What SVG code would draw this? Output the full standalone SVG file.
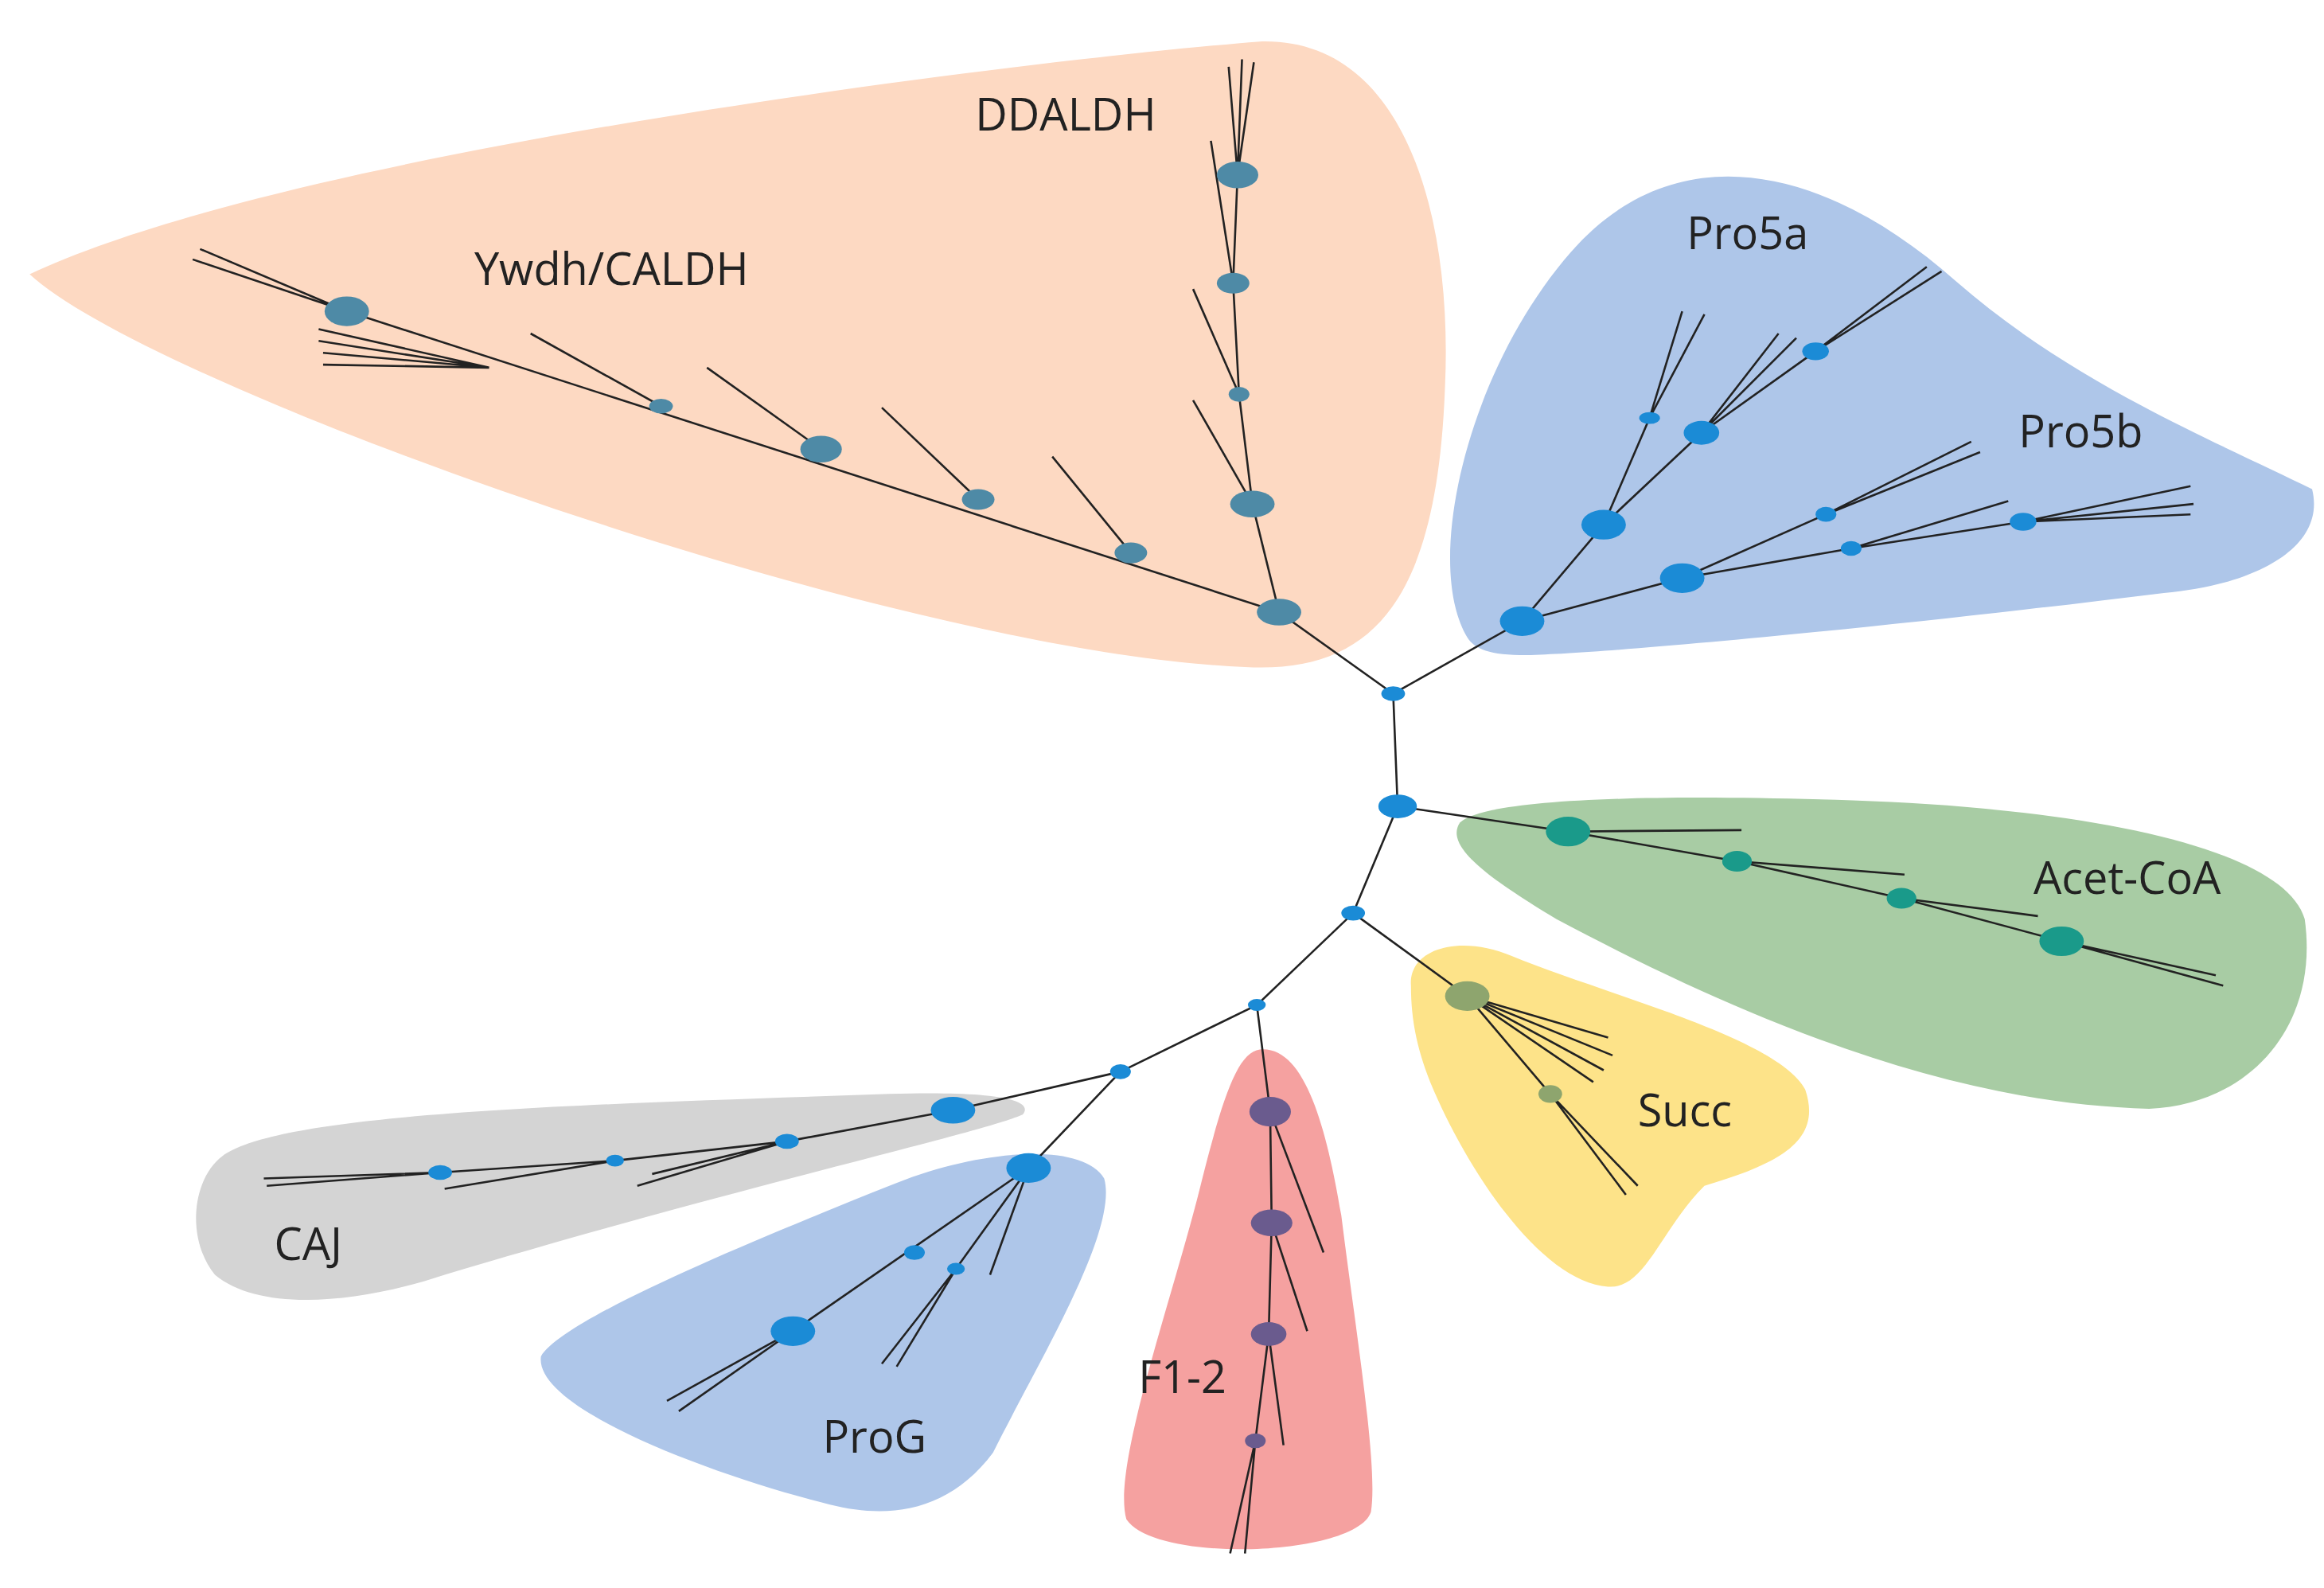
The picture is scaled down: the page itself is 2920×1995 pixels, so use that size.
<svg xmlns="http://www.w3.org/2000/svg" width="2920" height="1995" viewBox="0 0 2920 1995">
<style>
.e{stroke:#222;stroke-width:1.4;fill:none}
.t{font-family:"Open Sans","Liberation Sans",sans-serif;font-size:30px;fill:#222}
.a{fill:#4e8aa6}.b{fill:#1b8bd6}.g{fill:#1a9a8a}.y{fill:#8ea56e}.p{fill:#6a5b8e}
</style>
<rect width="2920" height="1995" fill="#fff"/>
<g transform="scale(1.8622)">
<g id="regions">
<path id="r-peach" d="M20,185 C200,100 700,40 850,28 C950,25 980,150 975,260 C970,400 930,455 840,450 C600,440 100,260 20,185 Z" fill="#fdd9c2"/>
<path id="r-pro5" d="M990,430 C960,380 990,250 1060,170 C1130,90 1230,110 1320,190 C1400,260 1500,300 1560,330 C1570,370 1520,395 1460,400 C1300,420 1100,440 1030,442 C1005,442 995,438 990,430 Z" fill="#aec6e9"/>
<path id="r-green" d="M985,555 C1000,540 1100,535 1250,540 C1400,545 1540,570 1555,620 C1565,690 1520,745 1450,748 C1330,745 1200,700 1050,620 C1000,590 975,570 985,555 Z" fill="#a8cca4"/>
<path id="r-yellow" d="M952,665 C950,640 985,630 1020,645 C1080,670 1200,700 1218,735 C1230,770 1200,785 1150,800 C1120,830 1110,870 1085,868 C1040,865 990,790 965,730 C955,705 952,685 952,665 Z" fill="#fde389"/>
<path id="r-red" d="M850,708 C880,705 895,760 905,820 C915,900 930,990 925,1020 C915,1050 780,1055 760,1025 C750,990 790,880 810,800 C825,740 835,710 850,708 Z" fill="#f5a1a0"/>
<path id="r-gray" d="M150,780 C190,750 400,745 600,738 C660,736 700,740 690,752 C660,765 500,800 300,860 C240,880 175,885 145,860 C125,835 130,795 150,780 Z" fill="#d4d4d4"/>
<path id="r-prog" d="M365,915 C380,890 500,840 600,800 C660,775 730,770 745,795 C755,830 700,920 670,980 C640,1020 600,1025 560,1015 C480,995 360,950 365,915 Z" fill="#aec6e9"/>
</g>
<g id="connectors">
<path class="e" d="M940,468 L943,544 L913,616 L848,678 L756,723"/>
<path class="e" d="M940,468 L863,413 L234,210 M234,210 L135,168 M234,210 L130,175 M763,373 L710,308 M660,337 L595,275 M554,303 L477,248 M446,274 L358,225 M330,248 L215,222 M330,248 L215,230 M330,248 L218,238 M330,248 L218,246"/>
<path class="e" d="M863,413 L845,340 L836,266 L832,191 L835,118 L838,40 M835,118 L846,42 M835,118 L829,45 M845,340 L805,270 M836,266 L805,195 M832,191 L817,95"/>
<path class="e" d="M940,468 L1027,419 L1082,354 L1148,292 L1225,237 L1300,180 M1225,237 L1310,183 M1082,354 L1113,282 L1135,210 M1113,282 L1150,212 M1148,292 L1200,225 M1148,292 L1212,228 M1027,419 L1135,390 L1232,347 L1330,298 M1232,347 L1336,305 M1135,390 L1249,370 L1365,352 L1478,328 M1365,352 L1480,340 M1365,352 L1478,347 M1249,370 L1355,338"/>
<path class="e" d="M943,544 L1058,561 L1172,581 L1283,606 L1391,635 L1500,665 M1391,635 L1495,658 M1058,561 L1175,560 M1172,581 L1285,590 M1283,606 L1375,618"/>
<path class="e" d="M913,616 L990,672 L1046,738 L1105,800 M1046,738 L1097,806 M990,672 L1085,700 M990,672 L1088,712 M990,672 L1082,722 M990,672 L1075,730"/>
<path class="e" d="M848,678 L857,750 L858,825 L856,900 L847,972 L840,1048 M847,972 L830,1048 M857,750 L893,845 M858,825 L882,898 M856,900 L866,975"/>
<path class="e" d="M756,723 L643,749 L531,770 L415,783 L297,791 L180,800 M297,791 L178,795 M531,770 L430,800 M531,770 L440,792 M415,783 L300,802"/>
<path class="e" d="M756,723 L694,788 L535,898 L450,945 M535,898 L458,952 M694,788 L645,856 L595,920 M645,856 L605,922 M694,788 L668,860"/>
</g>
<g id="nodes">
<ellipse class="a" cx="863" cy="413" rx="15" ry="9"/><ellipse class="a" cx="763" cy="373" rx="11" ry="7"/><ellipse class="a" cx="660" cy="337" rx="11" ry="7"/><ellipse class="a" cx="554" cy="303" rx="14" ry="9"/><ellipse class="a" cx="446" cy="274" rx="8" ry="5"/><ellipse class="a" cx="234" cy="210" rx="15" ry="10"/>
<ellipse class="a" cx="845" cy="340" rx="15" ry="9"/><ellipse class="a" cx="836" cy="266" rx="7" ry="5"/><ellipse class="a" cx="832" cy="191" rx="11" ry="7"/><ellipse class="a" cx="835" cy="118" rx="14" ry="9"/>
<ellipse class="b" cx="940" cy="468" rx="8" ry="5"/><ellipse class="b" cx="943" cy="544" rx="13" ry="8"/><ellipse class="b" cx="913" cy="616" rx="8" ry="5"/><ellipse class="b" cx="848" cy="678" rx="6" ry="4"/><ellipse class="b" cx="756" cy="723" rx="7" ry="5"/>
<ellipse class="b" cx="1027" cy="419" rx="15" ry="10"/><ellipse class="b" cx="1082" cy="354" rx="15" ry="10"/><ellipse class="b" cx="1148" cy="292" rx="12" ry="8"/><ellipse class="b" cx="1113" cy="282" rx="7" ry="4"/><ellipse class="b" cx="1225" cy="237" rx="9" ry="6"/><ellipse class="b" cx="1135" cy="390" rx="15" ry="10"/><ellipse class="b" cx="1232" cy="347" rx="7" ry="5"/><ellipse class="b" cx="1249" cy="370" rx="7" ry="5"/><ellipse class="b" cx="1365" cy="352" rx="9" ry="6"/>
<ellipse class="g" cx="1058" cy="561" rx="15" ry="10"/><ellipse class="g" cx="1172" cy="581" rx="10" ry="7"/><ellipse class="g" cx="1283" cy="606" rx="10" ry="7"/><ellipse class="g" cx="1391" cy="635" rx="15" ry="10"/>
<ellipse class="y" cx="990" cy="672" rx="15" ry="10"/><ellipse class="y" cx="1046" cy="738" rx="8" ry="6"/>
<ellipse class="p" cx="857" cy="750" rx="14" ry="10"/><ellipse class="p" cx="858" cy="825" rx="14" ry="9"/><ellipse class="p" cx="856" cy="900" rx="12" ry="8"/><ellipse class="p" cx="847" cy="972" rx="7" ry="5"/>
<ellipse class="b" cx="643" cy="749" rx="15" ry="9"/><ellipse class="b" cx="531" cy="770" rx="8" ry="5"/><ellipse class="b" cx="415" cy="783" rx="6" ry="4"/><ellipse class="b" cx="297" cy="791" rx="8" ry="5"/>
<ellipse class="b" cx="694" cy="788" rx="15" ry="10"/><ellipse class="b" cx="617" cy="845" rx="7" ry="5"/><ellipse class="b" cx="645" cy="856" rx="6" ry="4"/><ellipse class="b" cx="535" cy="898" rx="15" ry="10"/>
</g>
<g id="labels">
<text class="t" x="658" y="88">DDALDH</text>
<text class="t" x="320" y="192">Ywdh/CALDH</text>
<text class="t" x="1138" y="168">Pro5a</text>
<text class="t" x="1362" y="302">Pro5b</text>
<text class="t" x="1372" y="603">Acet-CoA</text>
<text class="t" x="1105" y="760">Succ</text>
<text class="t" x="768" y="940">F1-2</text>
<text class="t" x="555" y="980">ProG</text>
<text class="t" x="185" y="850">CAJ</text>
</g>
</g>
</svg>
